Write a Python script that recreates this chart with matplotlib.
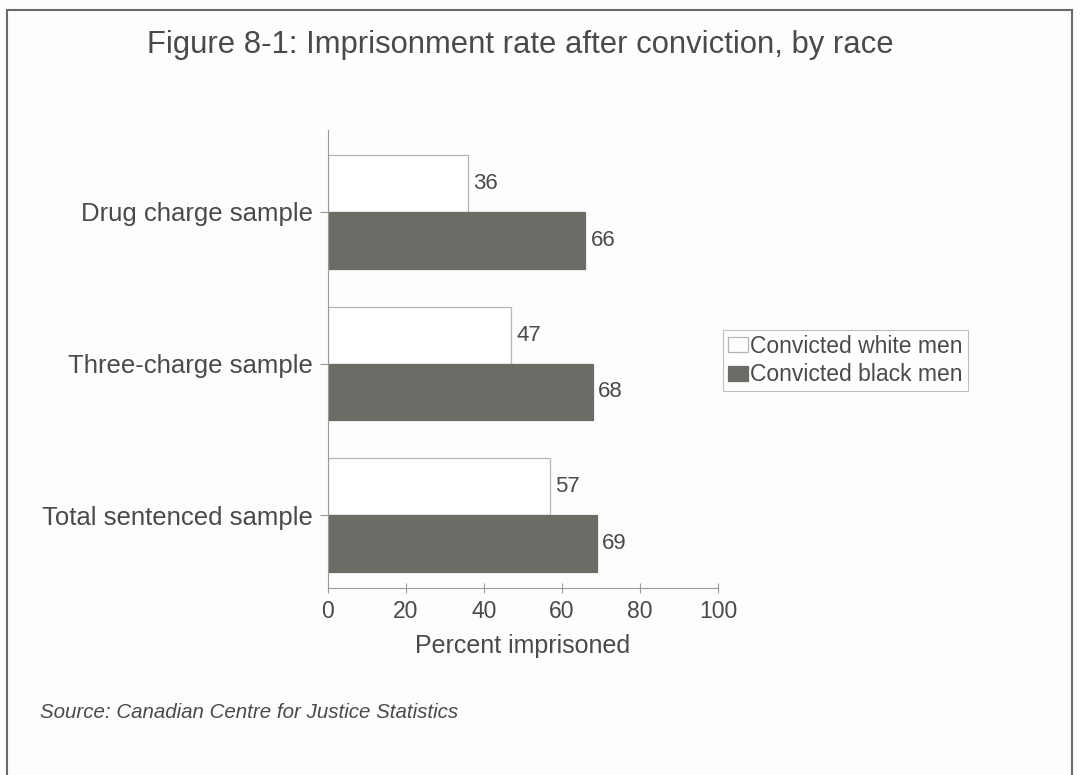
import matplotlib.pyplot as plt
from matplotlib.patches import Rectangle
import numpy as np

plt.rcParams['font.family'] = ['Liberation Sans', 'DejaVu Sans']

# データ
categories = ['Drug charge sample', 'Three-charge sample', 'Total sentenced sample']
white_men = [36, 47, 57]
black_men = [66, 68, 69]
series_names = ['Convicted white men', 'Convicted black men']
xticks = [0, 20, 40, 60, 80, 100]

text_col = '#4a4a4a'
axis_col = '#9a9a9a'
dark = '#6c6b66'

fig = plt.figure(figsize=(10.8, 7.75), dpi=100)
fig.patch.set_facecolor('#fdfdfd')

# 外枠
fig.patches.append(Rectangle((7 / 1080, -0.05), (1072 - 7) / 1080, 1 - 10 / 775 + 0.05,
                             transform=fig.transFigure, fill=False,
                             edgecolor='#6a6a6a', linewidth=1.5))

ax = fig.add_axes([328 / 1080, 1 - 588 / 775, 390 / 1080, (588 - 130) / 775])
ax.set_facecolor('none')

y = np.arange(len(categories))
h = 0.375
ax.barh(y - h / 2, white_men, height=h, color='white', edgecolor='#b5b5b5',
        linewidth=0.9, label=series_names[0])
ax.barh(y + h / 2, black_men, height=h, color=dark, edgecolor=dark,
        linewidth=0.9, label=series_names[1])

for i in range(len(categories)):
    ax.text(white_men[i] + 1.3, y[i] - h / 2, str(white_men[i]), va='center', ha='left',
            fontsize=16, color=text_col)
    ax.text(black_men[i] + 1.3, y[i] + h / 2, str(black_men[i]), va='center', ha='left',
            fontsize=16, color=text_col)

ax.set_xlim(0, 100)
ax.set_ylim(2.48, -0.54)
ax.set_xticks(xticks)
ax.set_xticklabels([str(t) for t in xticks])
ax.set_yticks(y)
ax.set_yticklabels(categories)
ax.tick_params(axis='x', colors=axis_col, labelcolor=text_col, labelsize=16.5,
               direction='inout', length=7, width=0.8, pad=5)
ax.tick_params(axis='y', colors=axis_col, labelcolor=text_col, labelsize=18.5,
               direction='out', length=6, width=0.8, pad=5)
for s in ['top', 'right']:
    ax.spines[s].set_visible(False)
for s in ['left', 'bottom']:
    ax.spines[s].set_color(axis_col)
    ax.spines[s].set_linewidth(0.8)

ax.set_xlabel('Percent imprisoned', fontsize=18, color=text_col, labelpad=8)

leg = fig.legend(loc='upper left', bbox_to_anchor=(723 / 1080, 1 - 330 / 775),
                 fontsize=16.5, frameon=True, fancybox=False, handlelength=0.9,
                 handleheight=0.65, handletextpad=0.1, borderpad=0.2,
                 labelspacing=0.25, borderaxespad=0)
leg.get_frame().set_edgecolor('#b0b0b0')
leg.get_frame().set_linewidth(0.8)
for t in leg.get_texts():
    t.set_color(text_col)

fig.text(520 / 1080, 1 - 45 / 775, 'Figure 8-1: Imprisonment rate after conviction, by race',
         ha='center', va='center', fontsize=22.3, color=text_col)
fig.text(40 / 1080, 1 - 712 / 775, 'Source: Canadian Centre for Justice Statistics',
         ha='left', va='center', fontsize=14.8, style='italic', color=text_col)

fig.savefig('out.png', dpi=100, facecolor=fig.get_facecolor())
